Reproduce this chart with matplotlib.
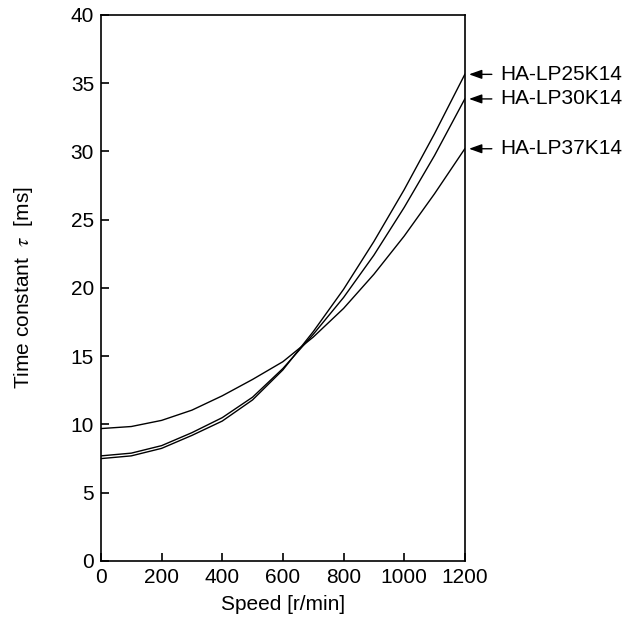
import matplotlib
matplotlib.use("Agg")
import matplotlib.pyplot as plt

plt.rcParams['font.family'] = ['Liberation Sans', 'DejaVu Sans']
plt.rcParams['mathtext.fontset'] = 'stix'

# values
speed_a = [0, 100, 200, 300, 400, 500, 600, 700, 800, 900, 1000, 1100, 1200]
tau_37k = [9.7, 9.85, 10.3, 11.05, 12.1, 13.3, 14.6, 16.4, 18.5, 21.0, 23.8, 26.9, 30.2]

speed = [0, 100, 200, 300, 400, 500, 600, 700, 800, 900, 1000, 1100, 1200]
tau_30k = [7.7, 7.9, 8.45, 9.4, 10.5, 12.0, 14.1, 16.6, 19.3, 22.4, 25.9, 29.7, 33.85]
tau_25k = [7.5, 7.7, 8.25, 9.2, 10.25, 11.8, 14.0, 16.8, 19.9, 23.4, 27.2, 31.3, 35.65]

labels = ["HA-LP25K14", "HA-LP30K14", "HA-LP37K14"]
ends = [tau_25k[-1], tau_30k[-1], tau_37k[-1]]

fig = plt.figure(figsize=(6.35, 6.24), dpi=100)
ax = fig.add_axes([0.159, 0.101, 0.573, 0.875])

ax.plot(speed_a, tau_37k, color="black", lw=1.0)
ax.plot(speed, tau_30k, color="black", lw=1.0)
ax.plot(speed, tau_25k, color="black", lw=1.0)

ax.set_xlim(0, 1200)
ax.set_ylim(0, 40)
ax.set_xticks(range(0, 1201, 200))
ax.set_yticks(range(0, 41, 5))
ax.tick_params(direction="in", length=6, width=1.2, labelsize=15, pad=5)
for s in ax.spines.values():
    s.set_linewidth(1.2)

ax.set_xlabel("Speed [r/min]", fontsize=15, labelpad=6)
ax.set_ylabel(r"Time constant  $\tau$  [ms]", fontsize=15, labelpad=26)

for lab, v in zip(labels, ends):
    ax.annotate("", xy=(1200, v), xytext=(27, 0), textcoords="offset pixels",
                annotation_clip=False,
                arrowprops=dict(arrowstyle="-|>,head_length=0.7,head_width=0.25",
                                color="black", lw=1.0, shrinkA=0, shrinkB=3,
                                mutation_scale=11))
    ax.annotate(lab, xy=(1200, v), xytext=(35, 0), textcoords="offset pixels",
                va="center", ha="left", fontsize=15, annotation_clip=False)

fig.savefig("out.png", dpi=100)
